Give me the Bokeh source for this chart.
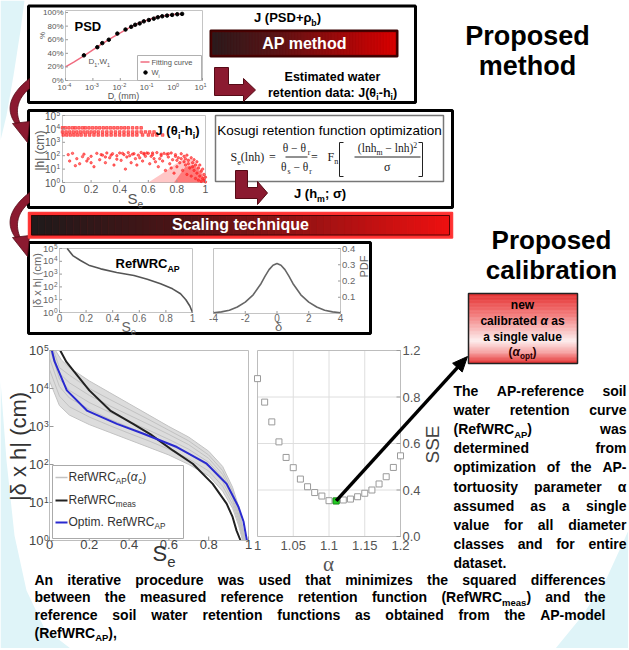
import math
from bokeh.plotting import figure
from bokeh.models import Range1d, ColumnDataSource
from bokeh.core.properties import value, field
from bokeh.embed import file_html
from bokeh.resources import INLINE

# ======================= DATA =======================
# PSD panel (D in mm, cumulative %)
psd_fit_d = [1e-4, 2e-4, 5e-4, 1e-3, 2e-3, 5e-3, 1e-2, 2e-2, 5e-2, 0.1, 0.2, 0.5, 1.0, 1.5]
psd_fit_w = [20, 27, 37, 45, 53, 63, 70, 77, 85, 89, 93, 96, 97.5, 98]
psd_pts_d = [0.00047, 0.00145, 0.0022, 0.0038, 0.0078, 0.0155, 0.025, 0.035, 0.051,
             0.072, 0.11, 0.166, 0.234, 0.34, 0.51, 0.78, 1.2, 1.8]
psd_pts_w = [37, 49, 55, 60, 69, 75, 79, 82, 84, 87, 89, 91, 93, 94.5, 95.5, 96.5, 97.5, 98]
psd_xticks = [1e-4, 1e-3, 1e-2, 1e-1, 1e0, 1e1]
psd_xexp = ["-4", "-3", "-2", "-1", "0", "1"]
psd_yticks = [0, 20, 40, 60, 80, 100]
psd_ylabels = ["0%", "20%", "40%", "60%", "80%", "100%"]

# Estimated retention data J(theta_i - h_i)  (Se, |h| cm)
ret_row_h = [12000, 5900, 3500]
ret_row_se = [
    [0.0, 0.02, 0.045, 0.07, 0.09, 0.115, 0.14, 0.16, 0.185, 0.21, 0.235, 0.26, 0.285, 0.31,
     0.335, 0.36, 0.385, 0.41, 0.435, 0.46, 0.49, 0.52, 0.55],
    [0.0, 0.025, 0.05, 0.075, 0.1, 0.125, 0.15, 0.175, 0.2, 0.225, 0.25, 0.28, 0.31, 0.34,
     0.37, 0.4, 0.43, 0.46, 0.49, 0.52, 0.55, 0.58, 0.61, 0.64],
    [0.005, 0.03, 0.055, 0.08, 0.105, 0.13, 0.16, 0.19, 0.22, 0.25, 0.28, 0.31, 0.34, 0.37,
     0.4, 0.43, 0.46, 0.49, 0.52, 0.56, 0.6, 0.63, 0.66, 0.7],
]
ret_cloud = [(0.04, 120), (0.07, 150), (0.10, 60), (0.12, 25), (0.15, 130), (0.17, 40), (0.20, 90),
             (0.22, 15), (0.24, 150), (0.26, 50), (0.28, 110), (0.30, 30), (0.31, 160), (0.33, 70),
             (0.35, 140), (0.36, 20), (0.38, 100), (0.40, 160), (0.41, 45), (0.43, 120), (0.45, 80),
             (0.46, 170), (0.48, 30), (0.50, 140), (0.51, 60), (0.53, 110), (0.55, 175), (0.56, 40),
             (0.58, 90), (0.60, 150), (0.61, 25), (0.63, 120), (0.64, 60), (0.66, 170), (0.67, 15),
             (0.69, 100), (0.70, 40), (0.71, 150), (0.72, 8), (0.74, 80), (0.75, 25), (0.76, 160),
             (0.77, 50), (0.78, 5), (0.79, 120), (0.80, 15), (0.81, 70), (0.82, 30), (0.83, 140),
             (0.84, 8), (0.85, 90), (0.86, 20), (0.87, 4), (0.87, 110), (0.88, 45), (0.89, 12),
             (0.90, 70), (0.90, 3), (0.91, 30), (0.92, 8), (0.92, 50), (0.93, 2), (0.93, 20),
             (0.94, 5), (0.94, 35), (0.95, 12), (0.95, 1.5), (0.96, 3), (0.96, 20), (0.97, 7),
             (0.97, 1.2), (0.98, 2), (0.98, 10), (0.99, 1.5), (0.99, 4), (1.00, 1.1), (1.00, 2.5),
             (0.86, 60), (0.80, 45), (0.76, 12), (0.68, 60), (0.62, 90), (0.57, 130), (0.52, 20),
             (0.44, 10), (0.38, 55), (0.30, 80), (0.20, 30), (0.14, 85), (0.09, 18), (0.05, 40),
             (0.73, 130), (0.65, 35), (0.59, 160), (0.54, 70), (0.47, 100), (0.42, 150), (0.34, 110),
             (0.27, 120), (0.18, 60), (0.83, 60), (0.88, 25), (0.91, 15), (0.85, 35), (0.79, 90),
             (0.74, 140), (0.69, 130), (0.63, 160), (0.57, 150), (0.49, 130)]
ret_spread_se = [0.60, 0.70, 0.78, 0.85, 0.90, 0.95, 0.98, 1.0, 1.0]
ret_spread_h = [1, 5, 20, 60, 60, 20, 6, 2, 1]
ret_dense_se = [0.78, 0.86, 0.92, 0.97, 1.0, 1.0]
ret_dense_h = [1, 15, 20, 5, 1.5, 1]
se_ticks = [0, 0.2, 0.4, 0.6, 0.8, 1.0]
se_labels = ["0", "0.2", "0.4", "0.6", "0.8", "1"]
log_ticks = [1, 10, 100, 1e3, 1e4, 1e5]
log_exp = ["0", "1", "2", "3", "4", "5"]

# RefWRC_AP small panel and scaling-factor PDF
ref_se = [0.058, 0.1, 0.158, 0.22, 0.31, 0.43, 0.56, 0.66, 0.76, 0.85, 0.91, 0.95, 0.98, 1.0]
ref_h = [1e5, 28000, 11500, 5000, 2570, 1320, 776, 398, 174, 71, 29, 10, 3.2, 1.0]
pdf_d = [-4, -3.5, -3, -2.5, -2, -1.5, -1, -0.75, -0.5, -0.25, 0, 0.25, 0.5, 0.75, 1, 1.5, 2,
         2.5, 3, 3.5, 4]
pdf_v = [0.005, 0.01, 0.02, 0.04, 0.07, 0.115, 0.185, 0.23, 0.27, 0.297, 0.307, 0.297, 0.27,
         0.23, 0.185, 0.115, 0.07, 0.04, 0.02, 0.01, 0.005]
pdf_xticks = [-4, -2, 0, 2, 4]
pdf_xlabels = ["-4", "-2", "0", "2", "4"]
pdf_yticks = [0.1, 0.2, 0.3, 0.4]
pdf_ylabels = ["0.1", "0.2", "0.3", "0.4"]

# Big panel: RefWRC_AP(alpha_c) family (log10 |h|), measured and optimised curves
fam_se = [
    [0.0, 0.05, 0.1, 0.2, 0.3, 0.4, 0.5, 0.6, 0.7, 0.8, 0.87, 0.92, 0.95, 0.97],
    [0.0, 0.05, 0.1, 0.2, 0.3, 0.4, 0.5, 0.6, 0.7, 0.8, 0.87, 0.92, 0.95, 0.973],
    [0.0, 0.05, 0.1, 0.2, 0.3, 0.4, 0.5, 0.6, 0.7, 0.8, 0.87, 0.92, 0.95, 0.975],
    [0.005, 0.05, 0.1, 0.2, 0.3, 0.4, 0.5, 0.6, 0.7, 0.8, 0.87, 0.92, 0.95, 0.977],
    [0.012, 0.05, 0.1, 0.2, 0.3, 0.4, 0.5, 0.6, 0.7, 0.8, 0.87, 0.92, 0.95, 0.98],
    [0.02, 0.05, 0.1, 0.2, 0.3, 0.4, 0.5, 0.6, 0.7, 0.8, 0.87, 0.92, 0.95, 0.982],
    [0.03, 0.06, 0.1, 0.2, 0.3, 0.4, 0.5, 0.6, 0.7, 0.8, 0.87, 0.92, 0.95, 0.985],
]
fam_logh = [
    [4.2, 3.55, 3.3, 3.05, 2.85, 2.65, 2.45, 2.25, 2.0, 1.7, 1.3, 0.85, 0.4, 0.0],
    [4.5, 3.8, 3.52, 3.25, 3.03, 2.82, 2.62, 2.4, 2.15, 1.83, 1.43, 0.95, 0.48, 0.0],
    [4.8, 4.05, 3.75, 3.45, 3.2, 2.98, 2.76, 2.53, 2.28, 1.95, 1.55, 1.05, 0.55, 0.0],
    [5.0, 4.25, 3.95, 3.63, 3.38, 3.14, 2.9, 2.66, 2.4, 2.06, 1.65, 1.13, 0.62, 0.0],
    [5.0, 4.4, 4.15, 3.82, 3.55, 3.3, 3.05, 2.79, 2.52, 2.16, 1.74, 1.22, 0.7, 0.0],
    [5.0, 4.55, 4.35, 4.0, 3.72, 3.45, 3.18, 2.9, 2.62, 2.25, 1.84, 1.3, 0.8, 0.0],
    [5.0, 4.75, 4.55, 4.2, 3.9, 3.6, 3.3, 3.0, 2.72, 2.35, 1.95, 1.4, 0.9, 0.0],
]
meas_se = [0.054, 0.085, 0.12, 0.2, 0.305, 0.42, 0.506, 0.62, 0.72, 0.82, 0.89, 0.92, 0.94, 0.96]
meas_logh = [5.0, 4.7, 4.47, 3.95, 3.42, 3.07, 2.8, 2.37, 2.02, 1.49, 0.97, 0.62, 0.26, 0.0]
opt_se = [0.012, 0.025, 0.045, 0.087, 0.188, 0.339, 0.472, 0.64, 0.79, 0.89, 0.95, 0.975, 0.983, 0.992]
opt_logh = [5.0, 4.72, 4.47, 3.95, 3.42, 3.07, 2.81, 2.46, 2.02, 1.49, 0.88, 0.5, 0.26, 0.0]

# SSE vs alpha
alpha = [1.00, 1.01, 1.02, 1.03, 1.04, 1.05, 1.06, 1.07, 1.08, 1.09, 1.10,
         1.11, 1.12, 1.13, 1.14, 1.15, 1.16, 1.17, 1.18, 1.19, 1.20]
sse = [0.879, 0.778, 0.693, 0.607, 0.540, 0.496, 0.447, 0.414, 0.389, 0.374, 0.354,
       0.353, 0.357, 0.361, 0.371, 0.386, 0.400, 0.426, 0.457, 0.497, 0.547]
alpha_opt = 1.11
sse_opt = 0.353
a_ticks = [1.0, 1.05, 1.1, 1.15, 1.2]
a_labels = ["1", "1.05", "1.1", "1.15", "1.2"]
sse_ticks = [0.2, 0.4, 0.6, 0.8, 1.0]
sse_labels = ["0.0", "0.4", "0.6", "0.8", "1.2"]


def lg(v):
    return [math.log10(x) for x in v]


# ======================= CANVAS =======================
W, H = 628, 648
CX0, CX1 = 0, W
CY0, CY1 = H, 0
p = figure(width=W, height=H, x_range=Range1d(CX0, CX1), y_range=Range1d(CY0, CY1),
           output_backend="svg", toolbar_location=None, x_axis_location=None,
           y_axis_location=None, min_border=0)
p.grid.visible = False
p.outline_line_color = None
p.background_fill_color = "white"
p.border_fill_color = "white"

SANS = "Liberation Sans"
SERIF = "Liberation Serif"
MAROON = "#8b1a30"
MAROON_D = "#560a16"

# ---- font metrics (per 1000 em) for rich/justified text ----
_SB = {' ': 278, '!': 333, '(': 333, ')': 333, ',': 278, '-': 333, '.': 278, ':': 333, ';': 333,
       '+': 584, '=': 584, '%': 889, '|': 280}
_SR = {' ': 278, '!': 278, '(': 333, ')': 333, ',': 278, '-': 333, '.': 278, ':': 278, ';': 278,
       '+': 584, '=': 584, '%': 889, '|': 260}
for _c in "0123456789":
    _SB[_c] = 556
    _SR[_c] = 556
_SB.update(dict(A=722, B=722, C=722, D=722, E=667, F=611, G=778, H=722, I=278, J=556, K=722, L=611,
                M=833, N=722, O=778, P=667, Q=778, R=722, S=667, T=611, U=722, V=667, W=944, X=667,
                Y=667, Z=611, a=556, b=611, c=556, d=611, e=556, f=333, g=611, h=611, i=278, j=278,
                k=556, l=278, m=889, n=611, o=611, p=611, q=611, r=389, s=556, t=333, u=611, v=556,
                w=778, x=556, y=556, z=500))
_SR.update(dict(A=667, B=667, C=722, D=722, E=667, F=611, G=778, H=722, I=278, J=500, K=667, L=556,
                M=833, N=722, O=778, P=667, Q=778, R=722, S=667, T=611, U=722, V=667, W=944, X=667,
                Y=667, Z=611, a=556, b=556, c=500, d=556, e=556, f=278, g=556, h=556, i=222, j=222,
                k=500, l=222, m=833, n=556, o=556, p=556, q=556, r=333, s=500, t=278, u=556, v=500,
                w=722, x=500, y=500, z=500))
_SE = dict(a=444, b=500, c=444, d=500, e=444, f=333, g=500, h=500, i=278, j=278, k=500, l=278, m=778,
           n=500, o=500, p=500, q=500, r=333, s=389, t=278, u=500, v=500, w=722, x=500, y=500, z=444,
           S=556, F=556)
_SE.update({' ': 250, '(': 333, ')': 333, '\u2212': 564, '=': 564, '2': 500})
for _t in (_SB, _SR, _SE):
    _t.update({'\u03b1': 620, '\u03b8': 560, '\u03c3': 600, '\u03c1': 600, '\u03b4': 560})
KINDS = {"sb": (_SB, SANS, "bold"), "sr": (_SR, SANS, "normal"), "serif": (_SE, SERIF, "normal")}

T = dict(x=[], y=[], text=[], size=[], style=[], color=[], align=[], baseline=[], font=[], angle=[])


def add_text(x, y, t, size, style="normal", color="black", align="left", baseline="alphabetic",
             font=SANS, angle=0.0):
    # y given as baseline -> drawn centred ("middle") at the cap-height centre
    if baseline == "alphabetic":
        y = y - 0.35 * size
        baseline = "middle"
    T["x"].append(x); T["y"].append(y); T["text"].append(t)
    T["size"].append("%.1fpx" % size); T["style"].append(style); T["color"].append(color)
    T["align"].append(align); T["baseline"].append(baseline); T["font"].append(font)
    T["angle"].append(angle)


def parse(s):
    segs, buf, i = [], "", 0
    while i < len(s):
        c = s[i]
        if c in "_^~" and i + 1 < len(s) and s[i + 1] == "{":
            if buf:
                segs.append((buf, 0, False)); buf = ""
            j = s.index("}", i)
            inner = s[i + 2:j]
            segs.append((inner, -1 if c == "_" else (1 if c == "^" else 0), c == "~"))
            i = j + 1
        else:
            buf += c; i += 1
    if buf:
        segs.append((buf, 0, False))
    return segs


def tw(s, size, kind):
    tbl = KINDS[kind][0]
    return sum(tbl.get(c, 600) for c in s) * size / 1000.0


def rich_layout(s, size, kind):
    pieces, off = [], 0.0
    for txt, lvl, ital in parse(s):
        sz = size if lvl == 0 else size * 0.68
        pieces.append((txt, sz, lvl, ital, off))
        off += tw(txt, sz, kind)
    return pieces, off


def rich(x, y, s, size, kind="sb", color="black", align="left"):
    pieces, total = rich_layout(s, size, kind)
    x0 = x - total / 2 if align == "center" else (x - total if align == "right" else x)
    _, font, base = KINDS[kind]
    for txt, sz, lvl, ital, off in pieces:
        lead = len(txt) - len(txt.lstrip(" "))
        off += tw(" " * lead, sz, kind)
        txt = txt.strip(" ")
        if not txt:
            continue
        dy = 0.0 if lvl == 0 else (0.25 * size if lvl < 0 else -0.4 * size)
        style = ("bold italic" if base == "bold" else "italic") if ital else base
        add_text(x0 + off, y + dy, txt, sz, style, color, "left", "alphabetic", font)
    return total


def justify(lines, x0, x1, y0, lh, size, kind="sb", color="black"):
    sp = tw(" ", size, kind)
    for k, line in enumerate(lines):
        words = line.split(" ")
        widths = [rich_layout(w, size, kind)[1] for w in words]
        if k == len(lines) - 1 or len(words) == 1:
            gap = sp
        else:
            gap = max((x1 - x0 - sum(widths)) / (len(words) - 1), 0.3 * sp)
        x = x0
        for w, wd in zip(words, widths):
            rich(x, y0 + k * lh, w, size, kind, color)
            x += wd + gap


def hex2rgb(h):
    return tuple(int(h[i:i + 2], 16) for i in (1, 3, 5))


def stopcolor(stops, t):
    for (p0, c0), (p1, c1) in zip(stops, stops[1:]):
        if t <= p1:
            u = (t - p0) / (p1 - p0)
            a, b = hex2rgb(c0), hex2rgb(c1)
            return "#%02x%02x%02x" % tuple(int(round(a[i] + (b[i] - a[i]) * u)) for i in range(3))
    return stops[-1][1]


def grad(x0, x1, y0, y1, stops, n=60, horizontal=True):
    L, R, Tp, B, C = [], [], [], [], []
    for i in range(n):
        t0, t1 = i / n, (i + 1) / n
        col = stopcolor(stops, (t0 + t1) / 2)
        if horizontal:
            L.append(x0 + (x1 - x0) * t0); R.append(x0 + (x1 - x0) * t1); Tp.append(y0); B.append(y1)
        else:
            L.append(x0); R.append(x1); Tp.append(y0 + (y1 - y0) * t0); B.append(y0 + (y1 - y0) * t1)
        C.append(col)
    p.quad(left=L, right=R, top=Tp, bottom=B, fill_color=C, line_color=C, line_width=0.6)


def frame(x0, x1, y0, y1, color="#c4c4c4", width=1.0):
    p.quad(left=[x0], right=[x1], top=[y0], bottom=[y1], fill_color=None, line_color=color,
           line_width=width)


def panel(xr, xt, yr, yt):
    xy = p.subplot(x_source=Range1d(*xr), x_target=Range1d(*xt),
                   y_source=Range1d(*yr), y_target=Range1d(*yt))
    xd = p.subplot(x_source=Range1d(*xr), x_target=Range1d(*xt),
                   y_source=Range1d(CY0, CY1), y_target=Range1d(CY0, CY1))
    yd = p.subplot(x_source=Range1d(CX0, CX1), x_target=Range1d(CX0, CX1),
                   y_source=Range1d(*yr), y_target=Range1d(*yt))
    return xy, xd, yd


def lin(v, a, b, c, d):
    return c + (v - a) / (b - a) * (d - c)


def tfont(size):
    return dict(text_font=value(SANS), text_font_size=value("%.1fpx" % size))


# ---- background swooshes ----
SW = "#dff4f8"
p.patch([0, 24, 20, 13, 6, 0], [0, 0, 30, 75, 115, 140], fill_color=SW, line_color=None)
p.patch([0, 6, 14, 26, 44, 70, 0], [380, 460, 535, 590, 628, 648, 648], fill_color=SW, line_color=None)
p.patch([628, 628, 555, 582, 606], [530, 648, 648, 615, 578], fill_color=SW, line_color=None)

# ---- boxes ----
for (l, r, t, b) in [(28, 415, 5.5, 102), (28, 452, 110, 207), (28, 370, 242, 333)]:
    p.quad(left=[l], right=[r], top=[t], bottom=[b], fill_color="white", line_color="black",
           line_width=3)


# ---- curved arrows at left ----
def qbez(p0, c, p1, n=24):
    out = []
    for i in range(n + 1):
        t = i / n
        out.append(((1 - t) ** 2 * p0[0] + 2 * (1 - t) * t * c[0] + t * t * p1[0],
                    (1 - t) ** 2 * p0[1] + 2 * (1 - t) * t * c[1] + t * t * p1[1]))
    return out


for dy in (0, 114):
    pts = qbez((29, 78 + dy), (-4, 104 + dy), (19, 128 + dy)) + qbez((21, 126 + dy), (10, 104 + dy), (29, 88 + dy))
    p.patch([q[0] for q in pts], [q[1] for q in pts], fill_color=MAROON, line_color=MAROON_D,
            line_width=0.8)
    p.patch([12, 29, 27], [123 + dy, 121 + dy, 142 + dy], fill_color=MAROON, line_color=MAROON_D,
            line_width=0.8)

# ---- L-arrow (box 1) ----
p.patch([214, 228, 228, 243, 243, 255, 243, 243, 214], [67, 67, 84, 84, 78, 89.5, 101, 95, 95],
        fill_color=MAROON, line_color=MAROON_D, line_width=1)

# ================= PSD PANEL (x = log10 D) =================
xy, xd, yd = panel((-4, 1), (65, 202), (0, 103), (80, 10))
frame(65, 202, 10, 80)
xy.line(lg(psd_fit_d), psd_fit_w, color="#f06c80", line_width=1.5)
xy.scatter(lg(psd_pts_d), psd_pts_w, size=3.5, color="black")
pxt = lg(psd_xticks)
n = len(pxt)
xd.segment(x0=pxt, x1=pxt, y0=[80] * n, y1=[77.5] * n, color="#999", line_width=1)
xd.text(x=pxt, y=[87] * n, text=["10"] * n, text_color="#555", text_align="right",
        text_baseline="middle", x_offset=1, **tfont(8))
xd.text(x=pxt, y=[84] * n, text=psd_xexp, text_color="#555", text_align="left",
        text_baseline="middle", x_offset=1, **tfont(5.5))
m = len(psd_yticks)
yd.segment(x0=[65] * m, x1=[67.5] * m, y0=psd_yticks, y1=psd_yticks, color="#999")
yd.text(x=[63] * m, y=psd_yticks, text=psd_ylabels, text_color="#555", text_align="right",
        text_baseline="middle", **tfont(8))
rich(123, 99, "D_{i} (mm)", 9, "sr", "#555", "center")
add_text(42, 35, "%", 8, "normal", "#555", "center", "middle", SANS, math.pi / 2)
rich(74, 31, "PSD", 13, "sb")
rich(88, 64, "D_{1},W_{1}", 8, "sr", "#555")
# legend
p.quad(left=[137], right=[201], top=[55], bottom=[80], fill_color="white", line_color="#b0b0b0")
p.segment(x0=[140], x1=[149], y0=[61.5], y1=[61.5], color="#f06c80", line_width=1.5)
p.scatter([145], [72], size=3.5, color="black")
rich(151, 64.5, "Fitting curve", 7.5, "sr", "#555")
rich(151, 75, "W_{i}", 7.5, "sr", "#555")

# box1 right side
rich(287, 22, "J (PSD+\u03c1_{b})", 13, "sb", "black", "center")
p.quad(left=[210], right=[397], top=[30], bottom=[56], fill_color="#5a0000", line_color="#3a0000",
       line_width=2)
grad(212, 395, 32, 54, [(0, "#2a1a1c"), (0.35, "#5a1416"), (1, "#d80000")])
rich(304, 48.5, "AP method", 16, "sb", "white", "center")
rich(332, 80.5, "Estimated water", 12.5, "sb", "black", "center")
rich(332, 96.5, "retention data: J(\u03b8_{i}-h_{i})", 12.5, "sb", "black", "center")

# ================= RETENTION SCATTER PANEL (y = log10 |h|) =================
xy, xd, yd = panel((0, 1), (62, 205), (0, 5), (182, 115))
frame(62, 205, 115, 182)
xy.patch(ret_spread_se, lg(ret_spread_h), fill_color="#ff2020", fill_alpha=0.25, line_color=None)
xy.patch(ret_dense_se, lg(ret_dense_h), fill_color="#ff2020", fill_alpha=0.45, line_color=None)
for h, row in zip(ret_row_h, ret_row_se):
    xy.scatter(row, [math.log10(h)] * len(row), marker="square", size=2.6, color="#ff2020", alpha=0.6)
xy.scatter([a for a, _ in ret_cloud], lg([b for _, b in ret_cloud]), size=2.4, color="#ff2020",
           alpha=0.6)
lt = lg(log_ticks)
n = len(se_ticks)
xd.segment(x0=se_ticks, x1=se_ticks, y0=[182] * n, y1=[179.5] * n, color="#999")
xd.text(x=se_ticks, y=[188.5] * n, text=se_labels, text_color="#555", text_align="center",
        text_baseline="middle", **tfont(10.5))
yd.segment(x0=[62] * 6, x1=[64.5] * 6, y0=lt, y1=lt, color="#999")
yd.text(x=[55.5] * 6, y=lt, text=["10"] * 6, text_color="#555", text_align="right",
        text_baseline="middle", **tfont(10))
yd.text(x=[56] * 6, y=lt, text=log_exp, text_color="#555", text_align="left",
        text_baseline="bottom", **tfont(6.5))
add_text(39.5, 150, "|h| (cm)", 12, "normal", "#555", "center", "middle", SANS, math.pi / 2)
rich(127, 203, "S_{e}", 15, "sr", "#555")
rich(177, 135, "J (\u03b8_{i}-h_{i})", 13, "sb", "black", "center")

# Kosugi box
p.quad(left=[215], right=[443], top=[115], bottom=[181], fill_color="white", line_color="#777",
       line_width=1.5)
rich(329, 135, "Kosugi retention function optimization", 13.5, "sr", "black", "center")
rich(230, 161, "S_{e}(lnh)", 12, "serif", "#222")
rich(272, 161, "=", 12, "serif", "#222", "center")
rich(296, 152, "\u03b8 \u2212 \u03b8_{r}", 11.5, "serif", "#222", "center")
rich(296, 171, "\u03b8_{s} \u2212 \u03b8_{r}", 11.5, "serif", "#222", "center")
rich(314, 161, "=", 12, "serif", "#222", "center")
rich(327, 161, "F_{n}", 12, "serif", "#222")
rich(387, 152, "(lnh_{m} \u2212 lnh)^{2}", 11.5, "serif", "#222", "center")
rich(387, 171, "\u03c3", 12, "serif", "#222", "center")
p.segment(x0=[285, 354], x1=[307, 420], y0=[156.5, 156.5], y1=[156.5, 156.5], color="#222", line_width=1)
p.multi_line(xs=[[343, 339, 339, 343], [418, 422, 422, 418]],
             ys=[[142, 142, 176, 176], [142, 142, 176, 176]], color="#222", line_width=1)
p.patch([235, 247, 247, 257, 257, 267, 257, 257, 235], [170, 170, 187, 187, 181, 192.5, 204, 198, 198],
        fill_color=MAROON, line_color=MAROON_D, line_width=1)
rich(319, 198, "J (h_{m}; \u03c3)", 13, "sb", "black", "center")

# ================= SCALING BAR =================
p.quad(left=[28], right=[452], top=[212], bottom=[237.5], fill_color="#ff3030", line_color="#ff3a3a",
       line_width=1.5)
grad(31, 449, 215, 234.5, [(0, "#1e1a1b"), (0.35, "#4a1416"), (1, "#ee1010")])
p.quad(left=[31], right=[449], top=[215], bottom=[234.5], fill_color=None, line_color="#300",
       line_width=0.8)
rich(240, 230, "Scaling technique", 16, "sb", "white", "center")

# ================= SMALL PANEL 1 (RefWRC_AP) =================
xy, xd, yd = panel((0, 1), (59, 192), (0, 5), (312, 248))
frame(59, 192, 248, 312)
xy.line(ref_se, lg(ref_h), color="#555", line_width=1.6)
xd.segment(x0=se_ticks, x1=se_ticks, y0=[312] * 6, y1=[309.5] * 6, color="#999")
xd.text(x=se_ticks, y=[317.5] * 6, text=se_labels, text_color="#666", text_align="center",
        text_baseline="middle", **tfont(10))
yd.segment(x0=[59] * 6, x1=[61.5] * 6, y0=lt, y1=lt, color="#999")
yd.text(x=[53] * 6, y=lt, text=["10"] * 6, text_color="#666", text_align="right",
        text_baseline="middle", **tfont(9.5))
yd.text(x=[53.5] * 6, y=lt, text=log_exp, text_color="#666", text_align="left",
        text_baseline="bottom", **tfont(6.5))
add_text(36.5, 280, "|\u03b4 x h| (cm)", 11, "normal", "#666", "center", "middle", SANS, math.pi / 2)
rich(121, 331, "S_{e}", 14, "sr", "#666")
rich(115, 268, "RefWRC_{AP}", 13, "sb")

# ================= SMALL PANEL 2 (PDF) =================
xy, xd, yd = panel((-4, 4), (213, 340), (0, 0.4), (313, 248))
frame(213, 340, 248, 313)
xy.line(pdf_d, pdf_v, color="#666", line_width=1.6)
n = len(pdf_xticks)
xd.segment(x0=pdf_xticks, x1=pdf_xticks, y0=[313] * n, y1=[310.5] * n, color="#999")
xd.text(x=pdf_xticks, y=[317.5] * n, text=pdf_xlabels, text_color="#666", text_align="center",
        text_baseline="middle", **tfont(10))
m = len(pdf_yticks)
yd.segment(x0=[340] * m, x1=[337.5] * m, y0=pdf_yticks, y1=pdf_yticks, color="#999")
yd.text(x=[341.5] * m, y=pdf_yticks, text=pdf_ylabels, text_color="#666", text_align="left",
        text_baseline="middle", **tfont(9.5))
add_text(363, 266, "PDF", 11, "normal", "#666", "center", "middle", SANS, math.pi / 2)
add_text(278, 331, "\u03b4", 13, "normal", "#666", "center", "alphabetic", SANS)

# ================= PROPOSED TEXTS =================
rich(527, 45, "Proposed", 27, "sb", "black", "center")
rich(527, 75, "method", 27, "sb", "black", "center")
rich(551, 249, "Proposed", 26, "sb", "black", "center")
rich(551, 279, "calibration", 26, "sb", "black", "center")

# red calibrated box
grad(468, 577, 293, 363, [(0, "#e43030"), (0.3, "#f27a7a"), (0.68, "#fdeeee"), (0.85, "#f6a0a0"),
                          (1, "#e43030")], n=50, horizontal=False)
p.quad(left=[468], right=[577], top=[293], bottom=[363], fill_color=None, line_color="#222",
       line_width=1.5)
rich(522, 309, "new", 12, "sb", "black", "center")
rich(522, 325, "calibrated ~{\u03b1} as", 12, "sb", "black", "center")
rich(522, 340.5, "a single value", 12, "sb", "black", "center")
rich(522, 356, "(~{\u03b1}_{opt})", 12, "sb", "#2a0000", "center")

# ================= BIG PANEL (y = log10 |delta x h|) =================
xy, xd, yd = panel((0, 1), (49, 248), (0, 5), (540, 350))
band_x = fam_se[-1] + fam_se[0][::-1] + [0.0]
band_y = fam_logh[-1] + fam_logh[0][::-1] + [5.0]
xy.patch(band_x, band_y, fill_color="#dcdcdc", line_color=None)
for se_row, h_row in zip(fam_se, fam_logh):
    xy.line(se_row, h_row, color="#c2c2c2", line_width=1)
xy.line(meas_se, meas_logh, color="#222", line_width=2)
xy.line(opt_se, opt_logh, color="#2a2ad0", line_width=2)
frame(49, 248, 350, 540, "#bdbdbd")
xd.segment(x0=se_ticks, x1=se_ticks, y0=[540] * 6, y1=[536] * 6, color="#999")
xd.text(x=se_ticks, y=[544] * 6, text=se_labels, text_color="#444", text_align="center",
        text_baseline="middle", **tfont(13))
yd.segment(x0=[49] * 6, x1=[53] * 6, y0=lt, y1=lt, color="#999")
yd.text(x=[43] * 6, y=lt, text=["10"] * 6, text_color="#444", text_align="right",
        text_baseline="middle", **tfont(13))
yd.text(x=[43.5] * 6, y=lt, text=log_exp, text_color="#444", text_align="left",
        text_baseline="bottom", **tfont(8.5))
add_text(18, 446, "|\u03b4 x h| (cm)", 22, "normal", "#333", "center", "middle", SANS, math.pi / 2)
rich(152, 561, "S_{e}", 22, "sr", "#333")
# legend
p.quad(left=[52], right=[183], top=[465], bottom=[538], fill_color="white", line_color="#aaa")
p.segment(x0=[55, 55, 55], x1=[67, 67, 67], y0=[477, 500, 522], y1=[477, 500, 522],
          color=["#c2c2c2", "#222", "#2a2ad0"], line_width=[1.5, 2, 2])
rich(68, 481, "RefWRC_{AP}(~{\u03b1}_{c})", 12, "sr", "#333")
rich(68, 504, "RefWRC_{meas}", 12, "sr", "#333")
rich(68, 526, "Optim. RefWRC_{AP}", 12, "sr", "#333")

# ================= SSE PANEL =================
xy, xd, yd = panel((1.0, 1.2), (257, 400), (0.2, 1.0), (536, 350))
xd.segment(x0=a_ticks[1:-1], x1=a_ticks[1:-1], y0=[536] * 3, y1=[350] * 3, color="#dedede")
yd.segment(x0=[257] * 3, x1=[400] * 3, y0=sse_ticks[1:-1], y1=sse_ticks[1:-1], color="#dedede")
frame(257, 400, 350, 536, "#bdbdbd")
xy.scatter(alpha, sse, marker="square", size=6, fill_color="white", line_color="#9a9a9a",
           line_width=1)
xy.scatter([alpha_opt], [sse_opt], marker="square", size=6, fill_color="#22cc22", line_color="#119911")
n = len(a_ticks)
xd.text(x=a_ticks, y=[544.5] * n, text=a_labels, text_color="#555", text_align="center",
        text_baseline="middle", **tfont(13))
yd.segment(x0=[400] * 5, x1=[396] * 5, y0=sse_ticks, y1=sse_ticks, color="#999")
yd.text(x=[402] * 5, y=sse_ticks, text=sse_labels, text_color="#555", text_align="left",
        text_baseline="middle", **tfont(13))
add_text(432, 444, "SSE", 19, "normal", "#444", "center", "middle", SANS, math.pi / 2)
add_text(328, 571, "\u03b1", 21, "normal", "#555", "center", "alphabetic", SERIF)

# black arrow from optimum to calibrated box
sx = lin(alpha_opt, 1.0, 1.2, 257, 400)
sy = lin(sse_opt, 0.2, 1.0, 536, 350)
tx, ty = 467, 356
dx, dyy = tx - sx, ty - sy
ln = math.hypot(dx, dyy)
ux, uy = dx / ln, dyy / ln
bx, by = tx - 15 * ux, ty - 15 * uy
p.segment(x0=[sx], y0=[sy], x1=[bx + 2 * ux], y1=[by + 2 * uy], color="black", line_width=3.5)
p.patch([tx, bx + 6.5 * uy, bx - 6.5 * uy], [ty, by - 6.5 * ux, by + 6.5 * ux], fill_color="black",
        line_color="black")

# ================= PARAGRAPHS =================
right_lines = ["The AP-reference soil", "water retention curve", "(RefWRC_{AP}) was",
               "determined from", "optimization of the AP-", "tortuosity parameter \u03b1",
               "assumed as a single", "value for all diameter", "classes and for entire",
               "dataset."]
justify(right_lines, 453, 626, 395, 19.2, 14)
bottom_lines = ["An iterative procedure was used that minimizes the squared differences",
                "between the measured reference retention function (RefWRC_{meas}) and the",
                "reference soil water retention functions as obtained from the AP-model",
                "(RefWRC_{AP}),"]
justify(bottom_lines, 34, 605, 584, 17.7, 14)

# ---- all canvas texts ----
src = ColumnDataSource(T)
p.text(x="x", y="y", text="text", source=src, text_font=field("font"), text_font_size=field("size"),
       text_font_style=field("style"), text_color=field("color"), text_align=field("align"),
       text_baseline=field("baseline"), angle=field("angle"))

open("out.html", "w").write(file_html(p, INLINE))
